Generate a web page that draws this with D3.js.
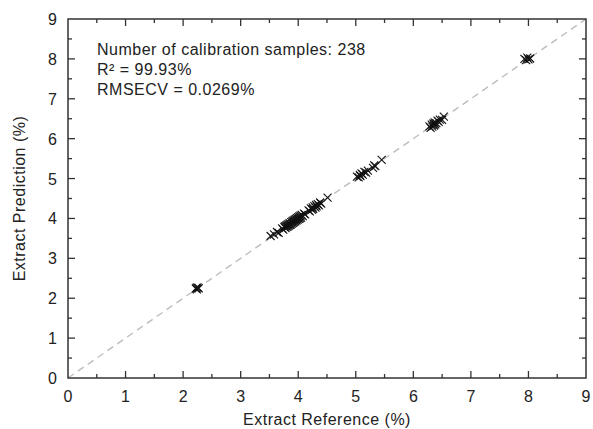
<!DOCTYPE html>
<html>
<head>
<meta charset="utf-8">
<script src="https://cdn.jsdelivr.net/npm/d3@7"></script>
<style>
  body { margin: 0; background: #fff; }
  svg { display: block; font-family: "Liberation Sans", Arial, sans-serif; }
</style>
</head>
<body>
<div id="chart"></div>
<script>
// Data
var majorTicks = [0, 1, 2, 3, 4, 5, 6, 7, 8, 9];
var minorTicks = [0.5, 1.5, 2.5, 3.5, 4.5, 5.5, 6.5, 7.5, 8.5];
var infoLines = ["Number of calibration samples: 238", "R\u00b2 = 99.93%", "RMSECV = 0.0269%"];

var reference = [2.22, 2.24, 2.25, 2.27, 2.23,
    3.52, 3.58, 3.63, 3.66,
    3.72, 3.74, 3.76, 3.77, 3.78, 3.79, 3.80, 3.81, 3.82, 3.83, 3.84, 3.85, 3.86, 3.87, 3.88,
    3.89, 3.90, 3.91, 3.92, 3.93, 3.94, 3.95, 3.96, 3.97, 3.98, 3.99, 4.00, 4.01, 4.02, 4.03,
    4.04, 4.05, 4.06, 4.08, 4.10, 4.12,
    4.18, 4.20, 4.22, 4.24, 4.25, 4.26, 4.28, 4.30, 4.31, 4.32, 4.34, 4.36, 4.38, 4.40,
    4.51,
    5.02, 5.05, 5.07, 5.08, 5.10, 5.12, 5.15, 5.18, 5.21,
    5.30, 5.32, 5.34,
    5.45,
    6.28, 6.30, 6.32, 6.33, 6.35, 6.36, 6.37, 6.38, 6.40, 6.42, 6.44, 6.46, 6.50, 6.53,
    7.93, 7.96, 7.98, 8.00, 8.03];

var prediction = [2.24, 2.22, 2.27, 2.25, 2.26,
    3.56, 3.60, 3.66, 3.64,
    3.75, 3.72, 3.78, 3.80, 3.76, 3.82, 3.79, 3.84, 3.80, 3.86, 3.82, 3.88, 3.84, 3.85, 3.91,
    3.87, 3.93, 3.89, 3.95, 3.91, 3.97, 3.93, 3.99, 3.95, 4.01, 3.97, 4.03, 3.99, 4.05, 4.00,
    4.07, 4.02, 4.09, 4.06, 4.12, 4.10,
    4.20, 4.18, 4.25, 4.22, 4.28, 4.24, 4.31, 4.27, 4.34, 4.30, 4.36, 4.33, 4.40, 4.37,
    4.52,
    5.05, 5.03, 5.09, 5.06, 5.13, 5.10, 5.17, 5.15, 5.20,
    5.27, 5.33, 5.31,
    5.47,
    6.31, 6.27, 6.35, 6.30, 6.38, 6.33, 6.41, 6.36, 6.39, 6.45, 6.42, 6.48, 6.47, 6.55,
    8.00, 7.97, 8.03, 7.99, 8.01];

// Canvas
var W = 593, H = 429;
var margin = { top: 19, right: 7, bottom: 51, left: 68 };
var width = W - margin.left - margin.right;
var height = H - margin.top - margin.bottom;

var svg = d3.select("#chart").append("svg")
    .attr("width", W)
    .attr("height", H);

var g = svg.append("g")
    .attr("transform", "translate(" + margin.left + "," + margin.top + ")");

var x = d3.scaleLinear().domain([0, 9]).range([0, width]);
var y = d3.scaleLinear().domain([0, 9]).range([height, 0]);

// 1:1 line
g.append("line")
    .attr("x1", x(0)).attr("y1", y(0))
    .attr("x2", x(9)).attr("y2", y(9))
    .attr("stroke", "#bdbdbd")
    .attr("stroke-width", 1.4)
    .attr("stroke-dasharray", "7,5");

// crosses
var s = 4;
g.append("g").selectAll("path")
    .data(d3.range(reference.length))
    .enter().append("path")
    .attr("d", function(i) {
        var cx = x(reference[i]), cy = y(prediction[i]);
        return "M" + (cx - s) + "," + (cy - s) + "L" + (cx + s) + "," + (cy + s)
             + "M" + (cx - s) + "," + (cy + s) + "L" + (cx + s) + "," + (cy - s);
    })
    .attr("stroke", "#111")
    .attr("stroke-width", 1.1)
    .attr("fill", "none");

// frame + inward ticks on all sides
var axisColor = "#333";
g.append("rect")
    .attr("width", width).attr("height", height)
    .attr("fill", "none").attr("stroke", axisColor).attr("stroke-width", 1.5);

function tickLen(v) { return majorTicks.indexOf(v) >= 0 ? 7 : 4; }
var allTicks = majorTicks.slice(1, 9).concat(minorTicks);

allTicks.forEach(function(v) {
    var L = tickLen(v);
    g.append("line").attr("x1", x(v)).attr("x2", x(v)).attr("y1", height).attr("y2", height - L)
        .attr("stroke", axisColor).attr("stroke-width", 1.3);
    g.append("line").attr("x1", x(v)).attr("x2", x(v)).attr("y1", 0).attr("y2", L)
        .attr("stroke", axisColor).attr("stroke-width", 1.3);
    g.append("line").attr("y1", y(v)).attr("y2", y(v)).attr("x1", 0).attr("x2", L)
        .attr("stroke", axisColor).attr("stroke-width", 1.3);
    g.append("line").attr("y1", y(v)).attr("y2", y(v)).attr("x1", width).attr("x2", width - L)
        .attr("stroke", axisColor).attr("stroke-width", 1.3);
});

// tick labels
g.selectAll(".xl").data(majorTicks).enter().append("text")
    .attr("x", function(d) { return x(d); })
    .attr("y", height + 24)
    .attr("text-anchor", "middle")
    .attr("font-size", 16)
    .attr("fill", "#222")
    .text(function(d) { return d; });

g.selectAll(".yl").data(majorTicks).enter().append("text")
    .attr("x", -11)
    .attr("y", function(d) { return y(d) + 6; })
    .attr("text-anchor", "end")
    .attr("font-size", 16)
    .attr("fill", "#222")
    .text(function(d) { return d; });

// axis titles
svg.append("text")
    .attr("x", margin.left + width / 2)
    .attr("y", 425)
    .attr("text-anchor", "middle")
    .attr("font-size", 16)
    .attr("letter-spacing", 0.5)
    .attr("fill", "#222")
    .text("Extract Reference (%)");

svg.append("text")
    .attr("transform", "translate(25," + (margin.top + height / 2) + ") rotate(-90)")
    .attr("text-anchor", "middle")
    .attr("font-size", 16)
    .attr("letter-spacing", 0.5)
    .attr("fill", "#222")
    .text("Extract Prediction (%)");

// annotation
g.selectAll(".info").data(infoLines).enter().append("text")
    .attr("x", 29)
    .attr("y", function(d, i) { return 36 + i * 20; })
    .attr("font-size", 16)
    .attr("letter-spacing", 0.5)
    .attr("fill", "#222")
    .text(function(d) { return d; });
</script>
</body>
</html>
